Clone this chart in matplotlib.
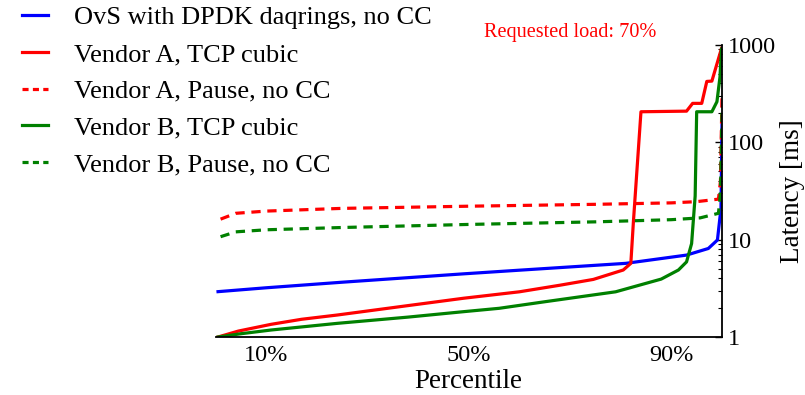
import matplotlib
matplotlib.use("Agg")
import matplotlib.pyplot as plt
from matplotlib.ticker import FixedLocator, LogLocator, NullFormatter

plt.rcParams['font.family'] = ['Liberation Serif', 'DejaVu Serif']

# Latency CDFs (percentile -> latency in ms)
ovs_pct = [0.5, 10, 25, 49, 60, 81, 93, 97.3, 99.1, 99.8, 100]
ovs_lat = [2.92, 3.2, 3.65, 4.45, 4.85, 5.7, 6.93, 8.1, 9.9, 21, 150]

a_tcp_pct = [0.5, 4.5, 11, 17, 24, 38, 49, 60, 68, 74.6, 80.5, 82.0, 82.5, 84.0,
             93.0, 94.2, 96.0, 97.0, 98.0, 99.9]
a_tcp_lat = [1.0, 1.15, 1.35, 1.52, 1.68, 2.1, 2.5, 2.91, 3.4, 3.9, 4.87, 5.7, 15, 205,
             208, 250, 250, 420, 423, 915]

a_pause_pct = [1, 4, 10, 25, 50, 75, 90, 95, 99.3, 99.7, 100]
a_pause_lat = [16.2, 18.6, 19.6, 20.9, 22.0, 23.0, 23.8, 24.5, 26.0, 40, 300]

b_tcp_pct = [0.5, 5, 11, 24, 38, 49, 56, 65, 79, 88, 91.4, 93.0, 94.0, 94.7, 95.0,
             98.0, 99.0, 99.6, 99.9]
b_tcp_lat = [1.0, 1.08, 1.18, 1.38, 1.6, 1.82, 1.97, 2.3, 2.91, 3.93, 4.87, 5.9, 9.1,
             28, 205, 205, 260, 466, 900]

b_pause_pct = [1, 4, 10, 25, 50, 75, 90, 95.7, 99.3, 99.7, 100]
b_pause_lat = [10.7, 12.0, 12.6, 13.3, 14.3, 15.2, 16.0, 16.7, 18.6, 30, 200]

series_labels = ["OvS with DPDK daqrings, no CC", "Vendor A, TCP cubic",
                 "Vendor A, Pause, no CC", "Vendor B, TCP cubic",
                 "Vendor B, Pause, no CC"]

x_ticks = [10, 50, 90]
x_tick_labels = ["10%", "50%", "90%"]
y_ticks = [1, 10, 100, 1000]
y_tick_labels = ["1", "10", "100", "1000"]

fig = plt.figure(figsize=(8.05, 3.95), dpi=100)
ax = fig.add_axes([215.5 / 805, 1 - 337 / 395, (722 - 215.5) / 805, (337 - 44.7) / 395])

lw = 2.3
dash = (2.9, 2.1)
ax.plot(ovs_pct, ovs_lat, color='blue', lw=lw, label=series_labels[0])
ax.plot(a_tcp_pct, a_tcp_lat, color='red', lw=lw, label=series_labels[1])
ax.plot(a_pause_pct, a_pause_lat, color='red', lw=lw, dashes=dash, label=series_labels[2])
ax.plot(b_tcp_pct, b_tcp_lat, color='green', lw=lw, label=series_labels[3])
ax.plot(b_pause_pct, b_pause_lat, color='green', lw=lw, dashes=dash, label=series_labels[4])

ax.set_yscale('log')
ax.set_xlim(0, 100)
ax.set_ylim(1, 1000)

for side in ('left', 'top'):
    ax.spines[side].set_visible(False)
for side in ('right', 'bottom'):
    ax.spines[side].set_linewidth(1.3)
    ax.spines[side].set_zorder(5)

ax.yaxis.tick_right()
ax.yaxis.set_label_position('right')
ax.yaxis.set_major_locator(FixedLocator(y_ticks))
ax.set_yticklabels(y_tick_labels)
ax.yaxis.set_minor_locator(LogLocator(base=10, subs=range(2, 10)))
ax.yaxis.set_minor_formatter(NullFormatter())
ax.tick_params(axis='y', which='major', direction='in', length=5, width=1,
               labelsize=17.5, pad=4)
ax.tick_params(axis='y', which='minor', direction='in', length=3, width=0.8)

ax.set_xticks(x_ticks)
ax.set_xticklabels(x_tick_labels)
ax.tick_params(axis='x', length=0, labelsize=17.5, pad=6)

ax.set_xlabel("Percentile", fontsize=19.5, labelpad=2)
ax.set_ylabel("Latency [ms]", fontsize=19.5, labelpad=3)

ax.text(0.70, 1.043, "Requested load: 70%", color='red', fontsize=14.6,
        ha='center', va='center', transform=ax.transAxes)

leg = fig.legend(loc='upper left', bbox_to_anchor=(22 / 805, 1 - 6 / 395),
                 frameon=False, fontsize=19, handlelength=0.98, handletextpad=1.0,
                 borderpad=0, borderaxespad=0, labelspacing=0.5)
# shorter dashes so the legend keys show three dashes
for handle in leg.get_lines()[2::2]:
    handle.set_dashes((1.9, 1.35))

fig.savefig("out.png", dpi=100)
